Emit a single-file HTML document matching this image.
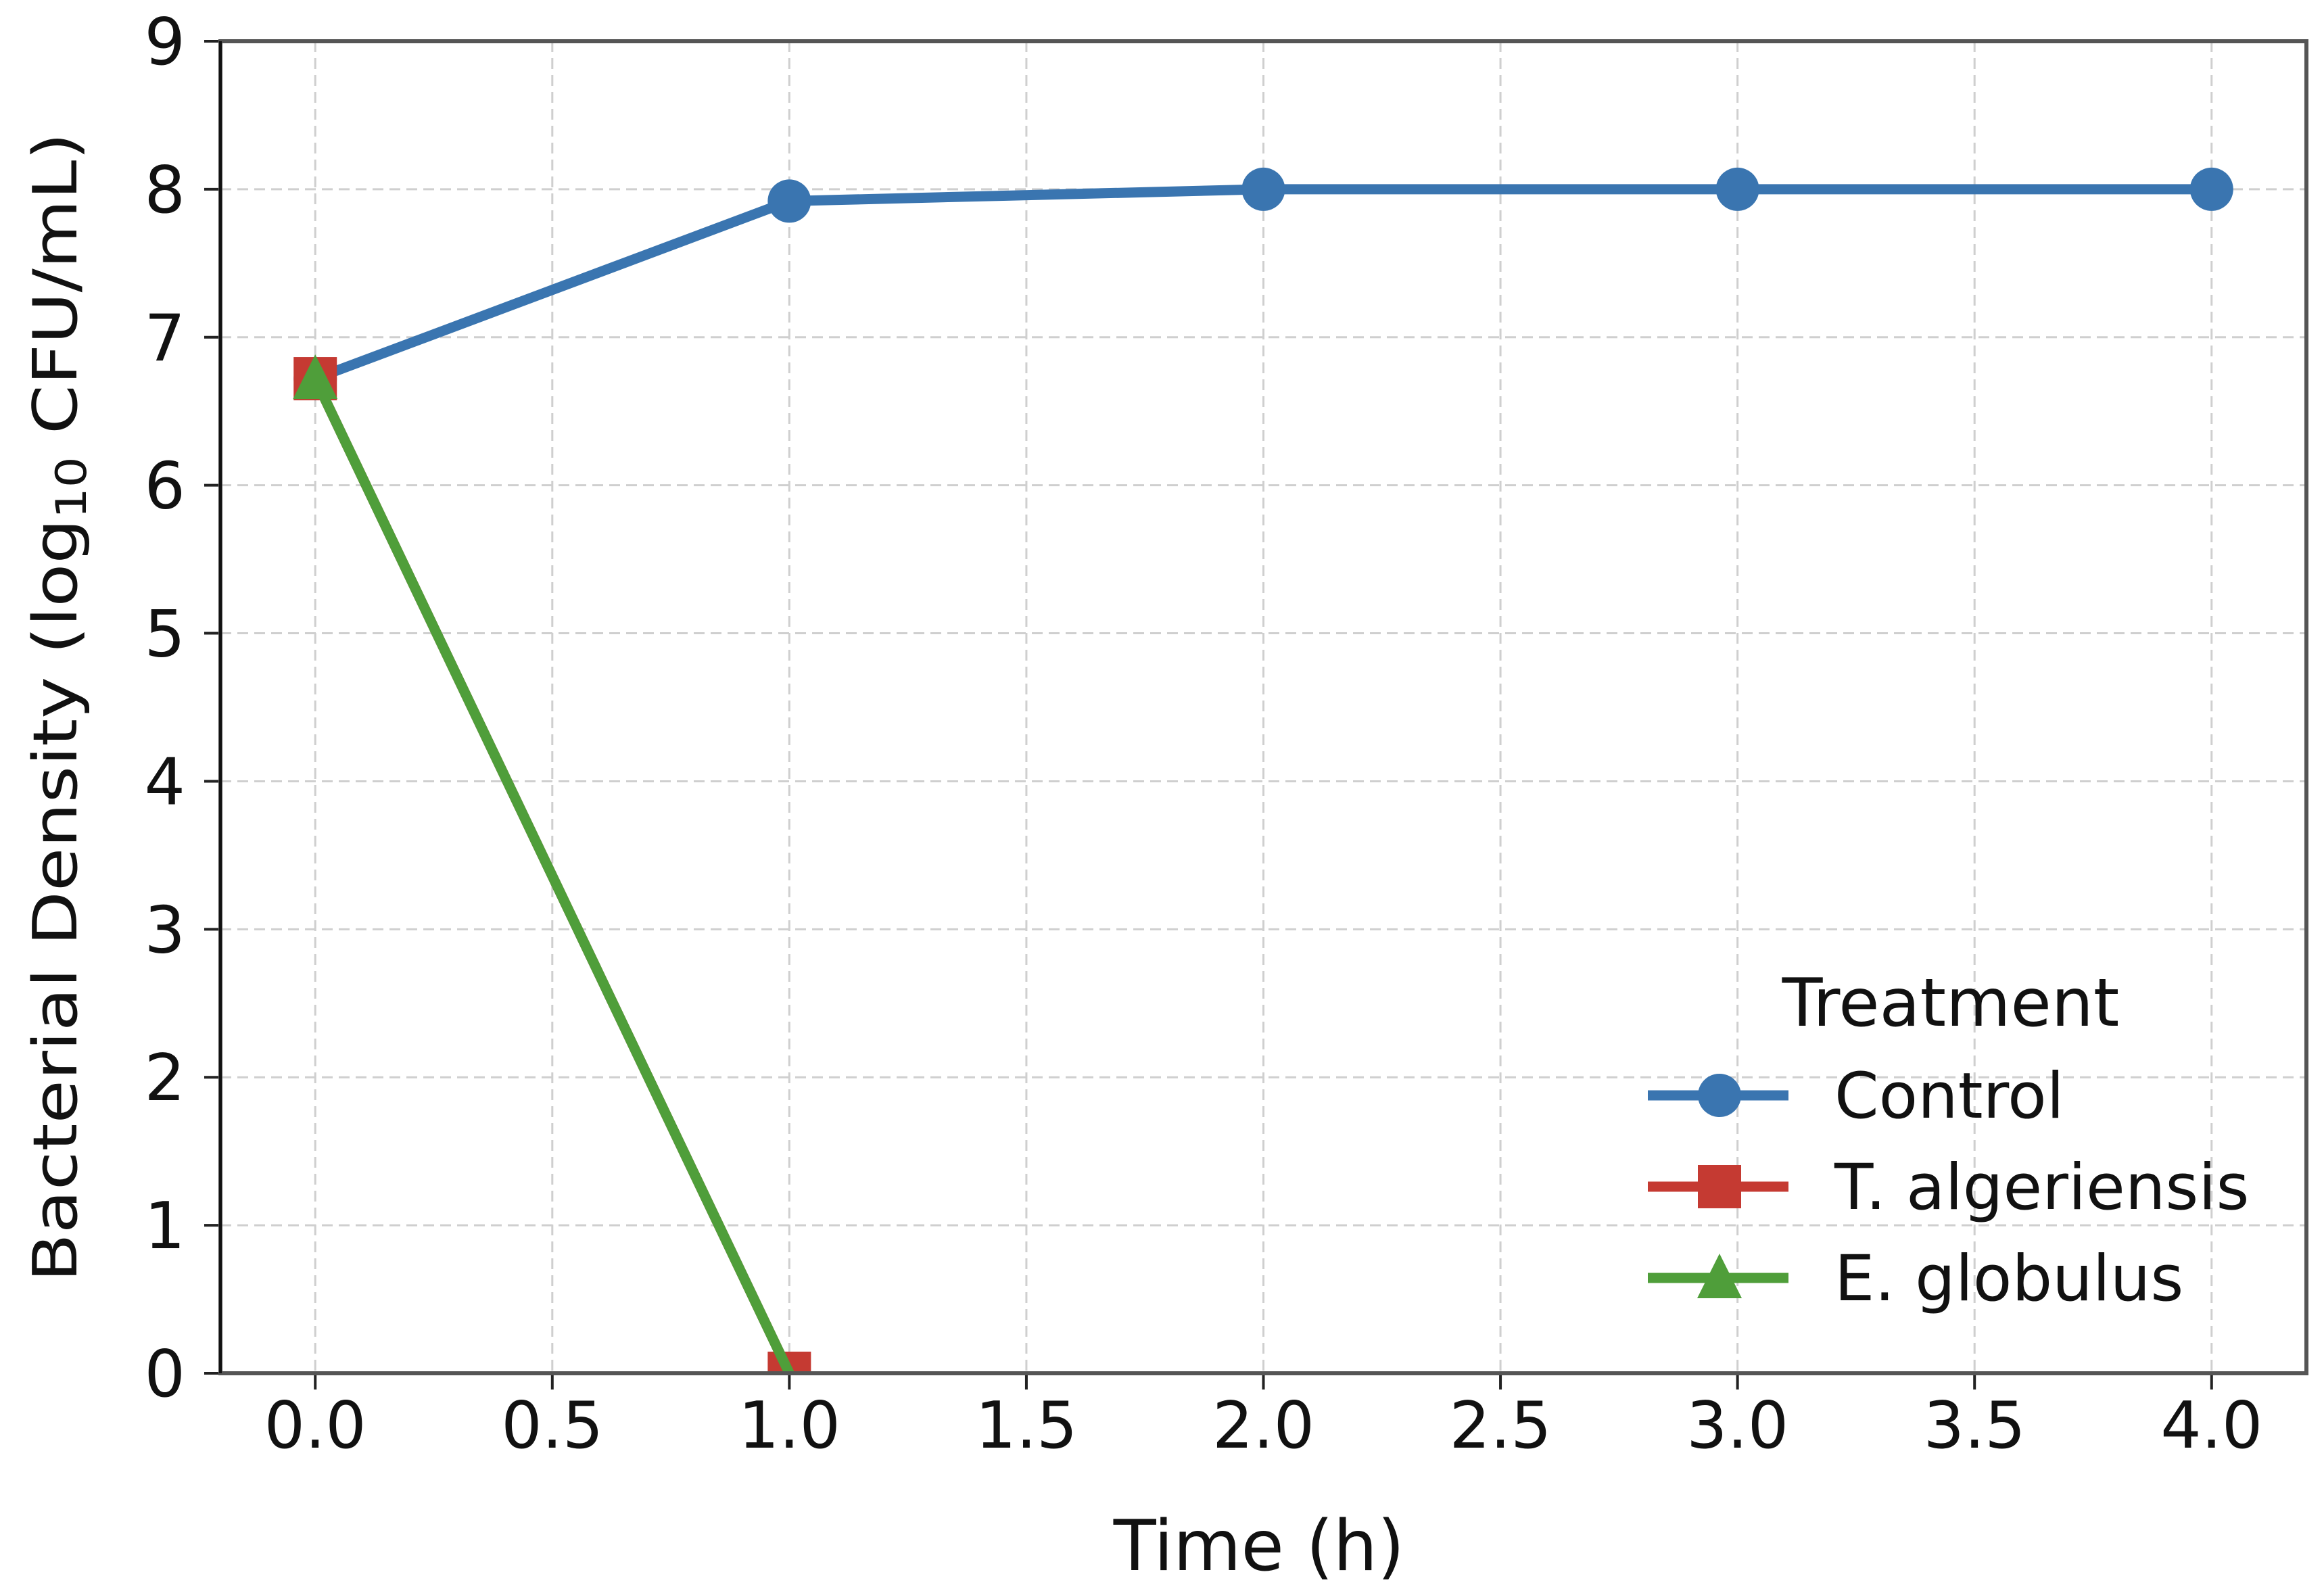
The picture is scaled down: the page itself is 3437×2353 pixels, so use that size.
<!DOCTYPE html>
<html><head><meta charset="utf-8"><style>
html,body{margin:0;padding:0;background:#fff;}
svg{display:block;font-family:"DejaVu Sans","Liberation Sans",sans-serif;}
</style></head><body>
<svg id="chart" width="3437" height="2353" viewBox="0 0 3437 2353" xmlns="http://www.w3.org/2000/svg">
<defs><clipPath id="plotclip"><rect x="326" y="61" width="3085" height="1970"/></clipPath></defs>
<rect width="3437" height="2353" fill="#fff"/>
<g id="grid"></g>
<g id="series" clip-path="url(#plotclip)"></g>
<g id="axes"></g>
<text x="1862" y="2322" font-size="103" text-anchor="middle" fill="#111">Time (h)</text>
<text transform="translate(113,1046) rotate(-90)" font-size="90" text-anchor="middle" fill="#111" textLength="1700" lengthAdjust="spacingAndGlyphs">Bacterial Density (log<tspan font-size="62" dy="14">10</tspan><tspan dy="-14"> CFU/mL)</tspan></text>
<g id="legend">
<text x="2885" y="1517" font-size="98" text-anchor="middle" fill="#111">Treatment</text>
</g>
</svg>
<script>
const times = [0, 1, 2, 3, 4];
const controlVals = [6.72, 7.92, 8.0, 8.0, 8.0];
const talgTimes = [0, 1];
const talgVals = [6.72, 0];
const eglobTimes = [0, 1];
const eglobVals = [6.72, 0];
const eglobMarkers = [true, false];
const xTicks = [0, 0.5, 1, 1.5, 2, 2.5, 3, 3.5, 4];
const xTickLabels = ["0.0","0.5","1.0","1.5","2.0","2.5","3.0","3.5","4.0"];
const yTicks = [0,1,2,3,4,5,6,7,8,9];
const seriesNames = ["Control", "T. algeriensis", "E. globulus"];

const NS = "http://www.w3.org/2000/svg";
const L = 326, R = 3411, T = 61, B = 2031;
const xMin = -0.2, xMax = 4.2, yMin = 0, yMax = 9;
function sx(v){ return L + (v - xMin) / (xMax - xMin) * (R - L); }
function sy(v){ return B - (v - yMin) / (yMax - yMin) * (B - T); }
function mk(tag, attrs, parent){ const e = document.createElementNS(NS, tag); for (const k in attrs) e.setAttribute(k, attrs[k]); parent.appendChild(e); return e; }

const grid = document.getElementById('grid');
const axes = document.getElementById('axes');
const series = document.getElementById('series');
const legend = document.getElementById('legend');

xTicks.forEach((t, i) => {
  const g = mk('line', {x1: sx(t), x2: sx(t), y1: T, y2: B, stroke: '#cfcfcf', 'stroke-width': 3, 'stroke-dasharray': '16 9'}, grid);
  
  
  const tk = mk('line', {x1: sx(t), x2: sx(t), y1: B, y2: B + 24, stroke: '#222', 'stroke-width': 4}, axes);
  
  
  const lb = mk('text', {x: sx(t), y: 2141, 'font-size': 95, 'text-anchor': 'middle', fill: '#111'}, axes);
  lb.textContent = xTickLabels[i];
  
  
});
yTicks.forEach((t) => {
  const g = mk('line', {x1: L, x2: R, y1: sy(t), y2: sy(t), stroke: '#cfcfcf', 'stroke-width': 3, 'stroke-dasharray': '16 9'}, grid);
  
  
  const tk = mk('line', {x1: L - 24, x2: L, y1: sy(t), y2: sy(t), stroke: '#222', 'stroke-width': 4}, axes);
  
  
  const lb = mk('text', {x: 274, y: sy(t) + 34, 'font-size': 95, 'text-anchor': 'end', fill: '#111'}, axes);
  lb.textContent = String(t);
  
  
});
const frame = mk('rect', {x: L, y: T, width: R - L, height: B - T, fill: 'none', stroke: '#555', 'stroke-width': 6}, axes);


const lsp = mk('line', {x1: L, x2: L, y1: T, y2: B, stroke: '#111', 'stroke-width': 4}, axes);



function marker(kind, cx, cy, color, parent){
  let e;
  if (kind === 'circle') e = mk('circle', {cx, cy, r: 32, fill: color}, parent);
  else if (kind === 'square') e = mk('rect', {x: cx - 32, y: cy - 32, width: 64, height: 64, fill: color}, parent);
  else e = mk('polygon', {points: `${cx},${cy - 36} ${cx + 33},${cy + 30} ${cx - 33},${cy + 30}`, fill: color}, parent);
  return e;
}
function drawSeries(xs, ys, color, kind, name, showMk){
  const pts = xs.map((x, i) => sx(x) + ',' + sy(ys[i])).join(' ');
  const pl = mk('polyline', {points: pts, fill: 'none', stroke: color, 'stroke-width': 15, 'stroke-linejoin': 'round'}, series);
  
  
  xs.forEach((x, i) => {
    if (showMk && !showMk[i]) return;
    const m = marker(kind, sx(x), sy(ys[i]), color, series);
    
    
  });
}
drawSeries(times, controlVals, '#3a75b0', 'circle', 'control');
drawSeries(talgTimes, talgVals, '#c53a32', 'square', 't-algeriensis');
drawSeries(eglobTimes, eglobVals, '#4f9e3a', 'triangle', 'e-globulus', eglobMarkers);

const legColors = ['#3a75b0', '#c53a32', '#4f9e3a'];
const legKinds = ['circle', 'square', 'triangle'];
const legY = [1620, 1755, 1890];
seriesNames.forEach((n, i) => {
  const ln = mk('line', {x1: 2437, x2: 2645, y1: legY[i], y2: legY[i], stroke: legColors[i], 'stroke-width': 15}, legend);
  
  
  const m = marker(legKinds[i], 2543, legY[i], legColors[i], legend);
  
  
  const t = mk('text', {x: 2713, y: legY[i] + 33, 'font-size': 94, fill: '#111'}, legend);
  t.textContent = n;
  
  
});
</script>
</body></html>
